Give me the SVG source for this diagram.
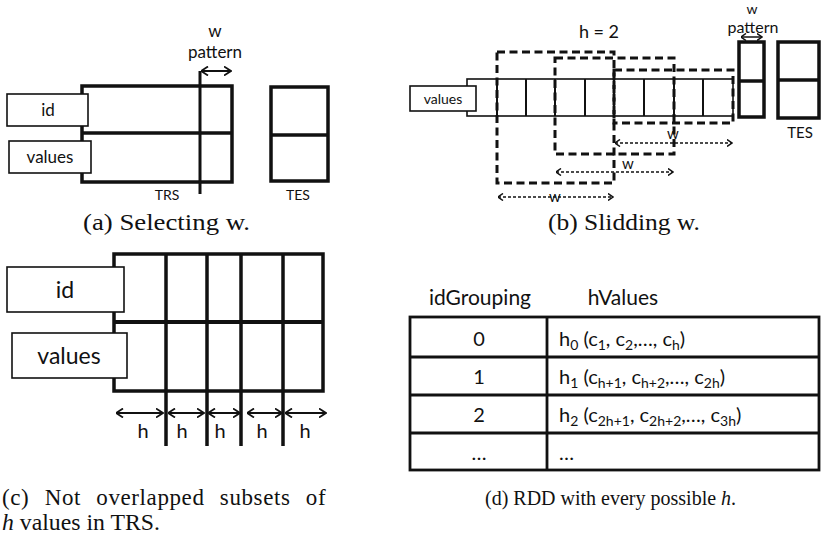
<svg xmlns="http://www.w3.org/2000/svg" width="822" height="540" viewBox="0 0 822 540">
  <style>
    .lbl { font-family: Lato, "Open Sans", "Liberation Sans", sans-serif; fill: #111; text-anchor: middle; }
    .cap { font-family: "Liberation Serif", "DejaVu Serif", serif; fill: #111; font-size: 23px; }
    .cap-small { font-size: 20px; }
    .thick { fill: none; stroke: #111; stroke-width: 3.5; }
    .thin { fill: #fff; stroke: #111; stroke-width: 1.6; }
    .dash { fill: none; stroke: #111; stroke-width: 3; stroke-dasharray: 8 4.5; }
    .dotarrow { fill: none; stroke: #111; stroke-width: 1.3; stroke-dasharray: 3 2; marker-start: url(#small); marker-end: url(#small); }
    .arrow { fill: none; stroke: #111; stroke-width: 2; marker-start: url(#chev); marker-end: url(#chev); }
    .sub { font-size: 14px; }
  </style>
  <defs>
    <marker id="chev" viewBox="0 0 8 10" refX="7.5" refY="5" markerWidth="8" markerHeight="10" orient="auto-start-reverse" markerUnits="userSpaceOnUse">
      <path d="M0.5,0.5 L7.5,5 L0.5,9.5" fill="none" stroke="#111" stroke-width="1.8"/>
    </marker>
    <marker id="small" viewBox="0 0 6 8" refX="5.5" refY="4" markerWidth="6" markerHeight="8" orient="auto-start-reverse" markerUnits="userSpaceOnUse">
      <path d="M0.5,0.5 L5.5,4 L0.5,7.5" fill="none" stroke="#111" stroke-width="1.5"/>
    </marker>
  </defs>
  <rect width="822" height="540" fill="#fff"/>

  <!-- (a) selecting w -->
  <g id="a-trs">
    <rect class="thick" x="82" y="86" width="150" height="96"/>
    <line class="thick" x1="82" y1="133" x2="232" y2="133"/>
    <text class="lbl" x="167" y="200" font-size="14">TRS</text>
  </g>
  <g id="a-id">
    <rect class="thin" x="7" y="94" width="81" height="32"/>
    <text class="lbl" x="48" y="116" font-size="17">id</text>
  </g>
  <g id="a-values">
    <rect class="thin" x="9" y="141" width="82" height="32"/>
    <text class="lbl" x="50" y="163" font-size="17">values</text>
  </g>
  <g id="a-tes">
    <rect class="thick" x="271" y="87" width="57" height="94"/>
    <line class="thick" x1="271" y1="135" x2="328" y2="135"/>
    <text class="lbl" x="298" y="200" font-size="14">TES</text>
  </g>
  <g id="a-pattern">
    <text class="lbl" x="215" y="37" font-size="17">w</text>
    <text class="lbl" x="215" y="58" font-size="17">pattern</text>
  </g>
  <g id="a-connectors">
    <line x1="200" y1="71" x2="200" y2="194" stroke="#111" stroke-width="3"/>
    <line class="arrow" x1="201" y1="71" x2="231" y2="71"/>
  </g>
  <text class="cap" x="83" y="230" textLength="167" lengthAdjust="spacingAndGlyphs">(a) Selecting w.</text>

  <!-- (b) sliding w -->
  <g id="b-row">
    <rect fill="none" stroke="#111" stroke-width="1.6" x="467" y="79" width="266" height="37"/>
    <g stroke="#111" stroke-width="2">
      <line x1="497" y1="79" x2="497" y2="116"/>
      <line x1="526" y1="79" x2="526" y2="116"/>
      <line x1="555" y1="79" x2="555" y2="116"/>
      <line x1="585" y1="79" x2="585" y2="116"/>
      <line x1="614" y1="79" x2="614" y2="116"/>
      <line x1="644" y1="79" x2="644" y2="116"/>
      <line x1="674" y1="79" x2="674" y2="116"/>
      <line x1="703" y1="79" x2="703" y2="116"/>
    </g>
  </g>
  <g id="b-values">
    <rect class="thin" x="410" y="86" width="66" height="25"/>
    <text class="lbl" x="443" y="104" font-size="14">values</text>
  </g>
  <g id="b-windows">
    <rect class="dash" x="497" y="52" width="117" height="131"/>
    <rect class="dash" x="555" y="58" width="119" height="96"/>
    <rect class="dash" x="614" y="70" width="119" height="53"/>
  </g>
  <g id="b-connectors">
    <line class="dotarrow" x1="498" y1="197" x2="613" y2="197"/>
    <line class="dotarrow" x1="556" y1="172" x2="673" y2="172"/>
    <line class="dotarrow" x1="615" y1="143" x2="732" y2="143"/>
  </g>
  <g id="b-wlabels">
    <text class="lbl" x="555" y="202" font-size="15">w</text>
    <text class="lbl" x="628" y="169" font-size="15">w</text>
    <text class="lbl" x="673" y="139" font-size="15">w</text>
    <text class="lbl" x="599" y="38" font-size="18">h = 2</text>
  </g>
  <g id="b-pattern">
    <rect class="thick" x="739" y="42" width="25" height="75"/>
    <line class="thick" x1="739" y1="81" x2="764" y2="81"/>
    <text class="lbl" x="752" y="14" font-size="14">w</text>
    <text class="lbl" x="753" y="33" font-size="16">pattern</text>
    <line x1="741" y1="37" x2="762" y2="37" stroke="#111" stroke-width="1.5" marker-start="url(#small)" marker-end="url(#small)"/>
  </g>
  <g id="b-tes">
    <rect class="thick" x="778" y="42" width="41" height="76"/>
    <line class="thick" x1="778" y1="80" x2="819" y2="80"/>
    <text class="lbl" x="800" y="138" font-size="15">TES</text>
  </g>
  <text class="cap" x="548" y="230" textLength="152" lengthAdjust="spacingAndGlyphs">(b) Slidding w.</text>

  <!-- (c) non-overlapping h subsets -->
  <g id="c-trs">
    <rect class="thick" x="114" y="254" width="209" height="137" stroke-width="4"/>
    <line x1="114" y1="322" x2="323" y2="322" stroke="#111" stroke-width="4"/>
    <g stroke="#111" stroke-width="3.5">
      <line x1="166" y1="254" x2="166" y2="446"/>
      <line x1="207" y1="254" x2="207" y2="446"/>
      <line x1="241" y1="254" x2="241" y2="446"/>
      <line x1="283" y1="254" x2="283" y2="446"/>
    </g>
  </g>
  <g id="c-id">
    <rect class="thin" x="7" y="267" width="117" height="45"/>
    <text class="lbl" x="65" y="298" font-size="23">id</text>
  </g>
  <g id="c-values">
    <rect class="thin" x="12" y="333" width="115" height="45"/>
    <text class="lbl" x="69" y="364" font-size="23">values</text>
  </g>
  <g id="c-connectors">
    <line class="arrow" x1="116" y1="413" x2="163" y2="413"/>
    <line class="arrow" x1="168" y1="413" x2="204" y2="413"/>
    <line class="arrow" x1="208" y1="413" x2="240" y2="413"/>
    <line class="arrow" x1="247" y1="413" x2="282" y2="413"/>
    <line class="arrow" x1="285" y1="413" x2="326" y2="413"/>
  </g>
  <g id="c-hlabels" font-size="20">
    <text class="lbl" x="143" y="438">h</text>
    <text class="lbl" x="182" y="438">h</text>
    <text class="lbl" x="220" y="438">h</text>
    <text class="lbl" x="262" y="438">h</text>
    <text class="lbl" x="305" y="438">h</text>
  </g>
  <!-- justified two-line caption -->
  <text class="cap" x="2" y="505" letter-spacing="0.6" word-spacing="9">(c) Not overlapped subsets of</text>
  <text class="cap" x="2" y="530" textLength="158" lengthAdjust="spacingAndGlyphs"><tspan font-style="italic">h</tspan> values in TRS.</text>

  <!-- (d) RDD table -->
  <g id="d-header" font-size="21">
    <text class="lbl" x="480" y="305">idGrouping</text>
    <text class="lbl" x="623" y="305">hValues</text>
  </g>
  <g id="d-table">
    <rect x="410" y="317" width="409" height="153" fill="none" stroke="#111" stroke-width="2.8"/>
    <g stroke="#111" stroke-width="2.8">
      <line x1="410" y1="357" x2="819" y2="357"/>
      <line x1="410" y1="395" x2="819" y2="395"/>
      <line x1="410" y1="433" x2="819" y2="433"/>
      <line x1="547" y1="317" x2="547" y2="470"/>
    </g>
  </g>
  <g id="d-rows" font-family="Lato, 'Open Sans', 'Liberation Sans', sans-serif" font-size="20" fill="#111">
    <text x="479" y="346" text-anchor="middle">0</text>
    <text x="559" y="346">h<tspan class="sub" dy="4">0</tspan><tspan dy="-4"> (c</tspan><tspan class="sub" dy="4">1</tspan><tspan dy="-4">, c</tspan><tspan class="sub" dy="4">2</tspan><tspan dy="-4">,…, c</tspan><tspan class="sub" dy="4">h</tspan><tspan dy="-4">)</tspan></text>
    <text x="479" y="384" text-anchor="middle">1</text>
    <text x="559" y="384">h<tspan class="sub" dy="4">1</tspan><tspan dy="-4"> (c</tspan><tspan class="sub" dy="4">h+1</tspan><tspan dy="-4">, c</tspan><tspan class="sub" dy="4">h+2</tspan><tspan dy="-4">,…, c</tspan><tspan class="sub" dy="4">2h</tspan><tspan dy="-4">)</tspan></text>
    <text x="479" y="422" text-anchor="middle">2</text>
    <text x="559" y="422">h<tspan class="sub" dy="4">2</tspan><tspan dy="-4"> (c</tspan><tspan class="sub" dy="4">2h+1</tspan><tspan dy="-4">, c</tspan><tspan class="sub" dy="4">2h+2</tspan><tspan dy="-4">,…, c</tspan><tspan class="sub" dy="4">3h</tspan><tspan dy="-4">)</tspan></text>
    <text x="479" y="460" text-anchor="middle">…</text>
    <text x="559" y="460">…</text>
  </g>
  <text class="cap cap-small" x="485" y="505">(d) RDD with every possible <tspan font-style="italic">h</tspan>.</text>
</svg>
